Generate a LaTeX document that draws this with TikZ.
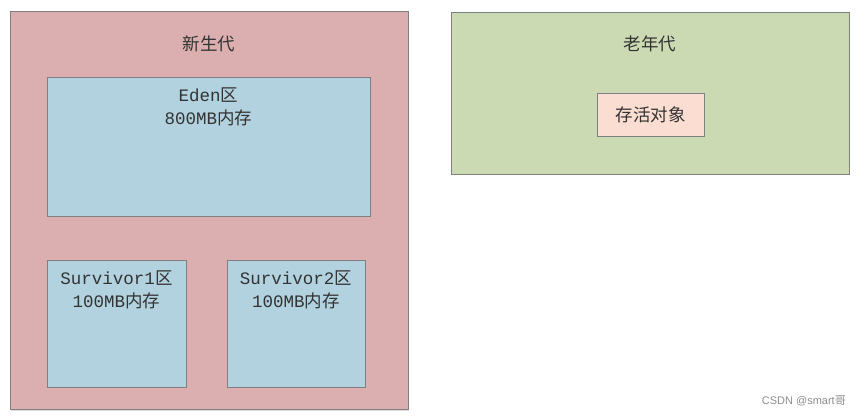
\documentclass[tikz,border=0pt]{standalone}
\usepackage{fontspec}
\newfontfamily\cjk{Noto Sans CJK SC}
\newfontfamily\lat{Liberation Mono}
\newfontfamily\wm{Liberation Sans}
\usetikzlibrary{shadows}
\definecolor{youngfill}{HTML}{DBAFAF}
\definecolor{edenfill}{HTML}{B1D2DE}
\definecolor{oldfill}{HTML}{CCDAB4}
\definecolor{objfill}{HTML}{FCDDD2}
\definecolor{edge}{HTML}{808080}
\definecolor{txt}{HTML}{333333}
\begin{document}
\begin{tikzpicture}[x=1pt,y=-1pt,
  area/.style={draw=edge, line width=1pt, rectangle, inner sep=0pt, outer sep=0pt,
    drop shadow={opacity=0.25, shadow xshift=1.2pt, shadow yshift=-1.2pt}},
  label/.style={text=txt, font=\fontsize{17.5}{23}\selectfont, align=center, inner sep=0pt}
]
\useasboundingbox (0,0) rectangle (867,418);
% young generation
\node[area, fill=youngfill, minimum width=398pt, minimum height=398pt] (young) at (209,210.5) {};
\node[label] (youngt) at (209,44) {\cjk 新生代};
% eden
\node[area, fill=edenfill, minimum width=323pt, minimum height=139pt] (eden) at (208.5,146.5) {};
\node[label, anchor=north] (edent) at (208.5,88) {{\lat Eden}{\cjk 区}\\{\lat 800MB}{\cjk 内存}};
% survivors
\node[area, fill=edenfill, minimum width=139pt, minimum height=127pt] (s1) at (116.5,323.5) {};
\node[label, anchor=north] (s1t) at (116.5,271) {{\lat Survivor1}{\cjk 区}\\{\lat 100MB}{\cjk 内存}};
\node[area, fill=edenfill, minimum width=138pt, minimum height=127pt] (s2) at (296,323.5) {};
\node[label, anchor=north] (s2t) at (296,271) {{\lat Survivor2}{\cjk 区}\\{\lat 100MB}{\cjk 内存}};
% old generation
\node[area, fill=oldfill, minimum width=398pt, minimum height=162pt] (old) at (650,93) {};
\node[label] (oldt) at (650,44) {\cjk 老年代};
\node[area, fill=objfill, minimum width=107pt, minimum height=43pt] (obj) at (650.5,114.5) {};
\node[label] (objt) at (650.5,114.5) {\cjk 存活对象};
% watermark
\node[text=black!45, font=\fontsize{11}{13}\selectfont, anchor=east, inner sep=0pt] (wm) at (846,401) {\wm CSDN @smart{\cjk 哥}};
\end{tikzpicture}
\end{document}
